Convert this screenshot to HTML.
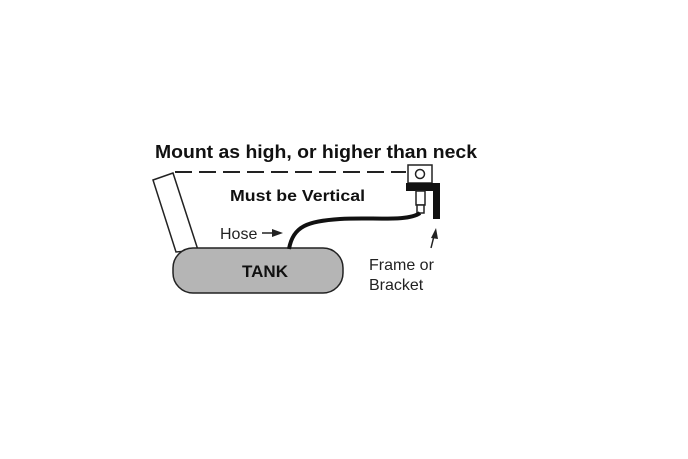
<!DOCTYPE html>
<html><head><style>body{margin:0;background:#fff}svg{display:block}</style></head><body>
<svg width="688" height="459" viewBox="0 0 688 459" xmlns="http://www.w3.org/2000/svg" font-family="Liberation Sans, sans-serif">
<text x="155" y="158" font-size="18.5" font-weight="bold" fill="#111" textLength="322" lengthAdjust="spacingAndGlyphs">Mount as high, or higher than neck</text>
<line x1="175" y1="172" x2="406" y2="172" stroke="#222" stroke-width="2" stroke-dasharray="17,7"/>
<rect x="408" y="165" width="24" height="18" fill="#fff" stroke="#222" stroke-width="1.5"/>
<circle cx="420" cy="174" r="4.5" fill="none" stroke="#222" stroke-width="1.5"/>
<rect x="406" y="183" width="34" height="8" fill="#111"/>
<rect x="433" y="183" width="7" height="36" fill="#111"/>
<rect x="416" y="191" width="9" height="14" fill="#fff" stroke="#222" stroke-width="1.5"/>
<rect x="417" y="205" width="7" height="8" fill="#fff" stroke="#222" stroke-width="1.5"/>
<polygon points="153,180 173,173 198,250 176,252" fill="#fff" stroke="#222" stroke-width="1.5"/>
<rect x="173" y="248" width="170" height="45" rx="20" fill="#b5b5b5" stroke="#222" stroke-width="1.5"/>
<text x="265" y="277" font-size="17" font-weight="bold" text-anchor="middle" fill="#111">TANK</text>
<path d="M289,249 C293,226 308,221 340,219 S408,222 420,213" fill="none" stroke="#111" stroke-width="4"/>
<text x="230" y="201" font-size="16" font-weight="bold" fill="#111" textLength="135" lengthAdjust="spacingAndGlyphs">Must be Vertical</text>
<text x="220" y="239" font-size="16" fill="#222">Hose</text>
<line x1="262" y1="233" x2="276" y2="233" stroke="#222" stroke-width="1.5"/>
<polygon points="283,233 272,229 272,237" fill="#222"/>
<text x="369" y="270" font-size="16" fill="#222">Frame or</text>
<text x="369" y="290" font-size="16" fill="#222">Bracket</text>
<line x1="431" y1="248" x2="434" y2="236" stroke="#222" stroke-width="1.5"/>
<polygon points="436,228 431,238 438,239" fill="#222"/>
</svg>
</body></html>
